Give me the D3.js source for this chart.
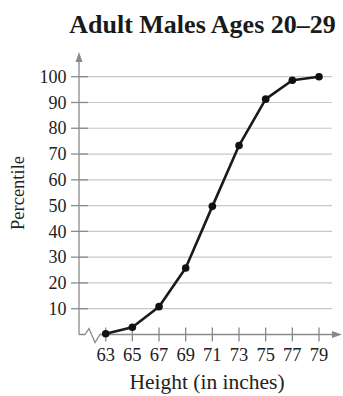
<!DOCTYPE html>
<html><head><meta charset="utf-8">
<script src="https://cdn.jsdelivr.net/npm/d3@7"></script>
<style>body{margin:0;background:#fff}svg{display:block}text{font-family:"Liberation Serif","Times New Roman",serif}</style>
</head><body>
<script>
const heights = [63, 65, 67, 69, 71, 73, 75, 77, 79];
const percentiles = [0.3, 2.8, 10.8, 25.8, 49.7, 73.3, 91.3, 98.6, 100];
const yTicks = [10, 20, 30, 40, 50, 60, 70, 80, 90, 100];
const title = "Adult Males Ages 20–29";
const xLabel = "Height (in inches)";
const yLabel = "Percentile";

const W = 343, H = 396;
const svg = d3.select("body").append("svg").attr("width", W).attr("height", H);

const x = d3.scaleLinear().domain([63, 79]).range([105.7, 319]);
const y = d3.scaleLinear().domain([0, 100]).range([334.5, 76.7]);
const x0 = 79; // y-axis position
const axisCol = "#8a8a8a";

svg.append("text").attr("x", 202.5).attr("y", 33).attr("text-anchor", "middle")
  .attr("font-size", 26).attr("font-weight", "bold").attr("fill", "#1a1a1a").text(title);

// gridlines
svg.append("g").selectAll("line").data(yTicks).join("line")
  .attr("x1", x0).attr("x2", 332).attr("y1", d => y(d)).attr("y2", d => y(d))
  .attr("stroke", "#c8c8c8").attr("stroke-width", 1.2);
// y ticks
svg.append("g").selectAll("line").data(yTicks).join("line")
  .attr("x1", 71).attr("x2", 88).attr("y1", d => y(d)).attr("y2", d => y(d))
  .attr("stroke", axisCol).attr("stroke-width", 1.3);
svg.append("g").selectAll("text").data(yTicks).join("text")
  .attr("x", 66.5).attr("y", d => y(d)).attr("dy", "0.34em").attr("text-anchor", "end")
  .attr("font-size", 18).attr("fill", "#222").text(d => d);

// y axis
svg.append("line").attr("x1", x0).attr("x2", x0).attr("y1", y(0)).attr("y2", 58)
  .attr("stroke", axisCol).attr("stroke-width", 1.3);
svg.append("path").attr("d", `M${x0},52 L${x0-3.5},62 L${x0+3.5},62 Z`).attr("fill", axisCol);

// x axis with break
const y0 = y(0);
svg.append("path").attr("d", `M${x0},${y0} L85,${y0} L89,${y0-6} L95,${y0+8} L100,${y0} L336,${y0}`)
  .attr("fill", "none").attr("stroke", axisCol).attr("stroke-width", 1.3);
svg.append("path").attr("d", `M342,${y0} L332,${y0-3.5} L332,${y0+3.5} Z`).attr("fill", axisCol);
svg.append("g").selectAll("line").data(heights).join("line")
  .attr("x1", d => x(d)).attr("x2", d => x(d)).attr("y1", y0 - 7).attr("y2", y0 + 7)
  .attr("stroke", axisCol).attr("stroke-width", 1.3);
svg.append("g").selectAll("text").data(heights).join("text")
  .attr("x", d => x(d)).attr("y", 360.5).attr("text-anchor", "middle")
  .attr("font-size", 18.5).attr("fill", "#222").text(d => d);

// labels
svg.append("text").attr("x", 207).attr("y", 389).attr("text-anchor", "middle")
  .attr("font-size", 21.5).attr("fill", "#222").text(xLabel);
svg.append("text").attr("transform", "translate(23.5,193) rotate(-90)").attr("text-anchor", "middle")
  .attr("font-size", 18.5).attr("fill", "#222").text(yLabel);

// line
const pts = heights.map((h, i) => [h, percentiles[i]]);
svg.append("path").datum(pts)
  .attr("d", d3.line().x(d => x(d[0])).y(d => y(d[1])))
  .attr("fill", "none").attr("stroke", "#1a1a1a").attr("stroke-width", 2.6).attr("stroke-linejoin", "round");
svg.append("g").selectAll("circle").data(pts).join("circle")
  .attr("cx", d => x(d[0])).attr("cy", d => y(d[1])).attr("r", 3.8).attr("fill", "#111");
</script>
</body></html>
